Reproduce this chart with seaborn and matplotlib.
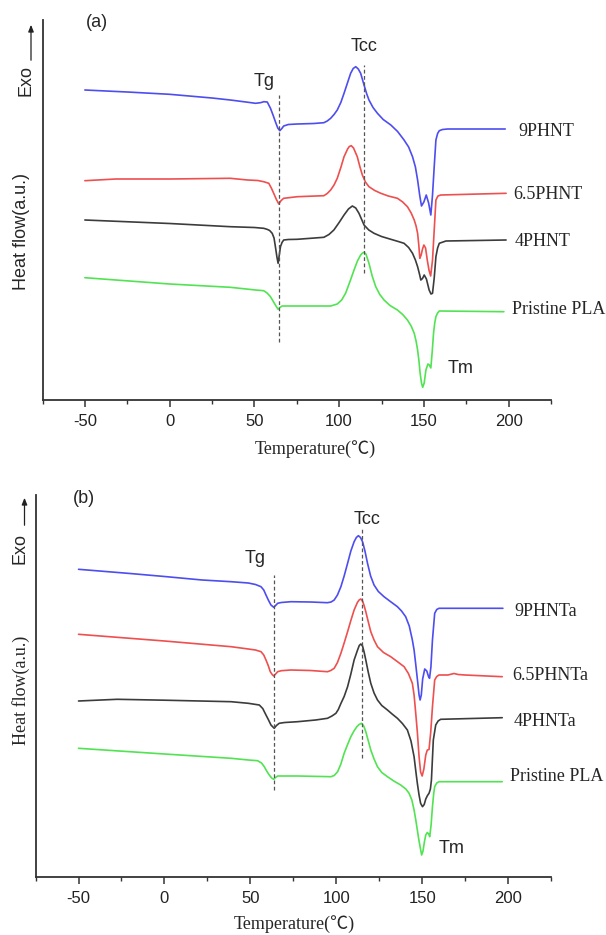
import numpy as np
import pandas as pd
import matplotlib
matplotlib.use("Agg")
import matplotlib.pyplot as plt
from matplotlib.ticker import MultipleLocator
import seaborn as sns

# ---------------- data ----------------
# panel (a)
a_9_T = [-50, -25, 0, 25, 35.8, 45, 50.7, 53.6, 55.6, 57.6, 59.5, 61, 62.4, 63.8, 65.0, 66.2, 67.3, 70,
         75.3, 85, 91.0, 93, 95.0, 97, 98.9, 101, 102.9, 105, 106.8, 108.3, 109.8, 111.3, 112.7, 114.7,
         116.2, 117.6, 120, 122.6, 126, 130.5, 134.5, 138.3, 141, 143.3, 145, 146.3, 147.6, 148.6, 150,
         151.4, 152.8, 154.1, 155.1, 156.1, 157.1, 158.1, 159.1, 161, 164, 198]
a_9_v = [310, 308, 305.7, 302, 300, 298, 296.7, 297.3, 298.3, 298, 291.7, 285, 278.3, 272, 269.3, 271.5,
         274, 275.5, 276, 276.5, 277.3, 279, 281.7, 285.5, 290, 297.5, 306.7, 317.5, 326.7, 331.5, 333.3,
         331, 326.7, 315, 306.5, 300, 292.5, 286.7, 280.5, 275, 268.5, 260, 253, 243.3, 233, 220, 204,
         194, 198, 205, 197, 185, 205, 233.3, 260, 266.5, 269.3, 270.5, 271, 271]

a_65_T = [-50, -31.7, 0, 35.8, 46, 52, 55.5, 58.5, 60, 61.4, 63, 64.4, 65.8, 67.3, 75.3, 91, 93, 95, 97,
          98.9, 101, 102.9, 105, 106, 107.2, 108.5, 110.7, 112.3, 113.7, 115.5, 117.6, 121, 124.6, 129,
          134.4, 137.5, 140.3, 142.5, 144.3, 145.4, 146.3, 147, 147.6, 148.4, 149.2, 150.0, 151, 152.0,
          153, 154.0, 155.1, 156.1, 157.1, 158.3, 160, 198.5]
a_65_v = [219.3, 221, 221, 221.7, 220, 219.5, 218.3, 216.7, 212, 206.7, 200.5, 196, 199.5, 201.7, 203.3,
          204.3, 206.5, 210, 215, 221.7, 232.5, 243.3, 251, 253.5, 254.3, 252, 243.3, 233, 225, 218,
          213.3, 209.5, 206.7, 204, 201.7, 198, 193.3, 187, 180, 174, 166.7, 155, 141.7, 145, 151, 155,
          152, 140, 130, 124, 140, 170, 200, 204, 205, 206.7]

a_4_T = [-50, 0, 35.8, 50, 55.5, 57.5, 59, 60.5, 61.6, 62.4, 63.3, 64, 64.7, 65.4, 66.3, 67.3, 70, 75.3,
         91, 94, 96.9, 100, 102.9, 105.5, 107.8, 109.8, 111.7, 113.3, 114.7, 117.5, 120.6, 125, 130.5,
         134.5, 138.3, 141, 143.3, 145, 146.3, 147.4, 148.2, 149.2, 150.2, 151.5, 153.1, 154.2, 155.1,
         156.1, 157.1, 158.1, 159.1, 163, 198.5]
a_4_v = [180, 176.5, 173.3, 172.5, 171.7, 170.7, 169.5, 166.7, 162, 153.3, 143, 136.7, 145, 153.3, 157.5,
         160, 160.5, 160.7, 162.7, 165.5, 170, 177.5, 185, 191, 194, 192, 186.7, 180.5, 175, 170, 166.7,
         163.5, 160.7, 158.7, 156.7, 152.5, 146.7, 140, 133.3, 126, 120, 121.5, 125, 121, 110, 106,
         106.7, 122, 143.3, 152, 156.7, 159, 160]

a_p_T = [-50, 0, 35.8, 50.7, 55.5, 57.5, 59.5, 61, 62.4, 63.3, 64, 65, 66.4, 75.3, 95, 98.9, 101.5,
         103.8, 106.3, 108.8, 110.8, 112.7, 113.8, 114.7, 115.8, 117.6, 119.5, 121.6, 124, 126.5, 130,
         134.4, 137.5, 140.3, 142.5, 144.3, 145.4, 146.3, 147.1, 147.8, 148.6, 149.3, 150.2, 151.2,
         152.4, 153.2, 154.1, 154.9, 155.7, 156.4, 157.1, 158.1, 159.1, 197.2]
a_p_v = [122.3, 116, 112.7, 110, 109.3, 107, 103.3, 99, 95, 92.5, 90.7, 92.5, 94, 94, 94, 96, 100, 106.7,
         118, 130, 139, 145, 147, 147.7, 146, 136.7, 124, 113.3, 105.5, 100, 94.5, 90, 85.5, 80, 74,
         66.7, 59, 50, 39, 26.7, 17, 12.7, 17, 30, 36, 35, 32, 48, 66.7, 77, 83.3, 87, 89, 88.3]

# panel (b)
b_9_T = [-50, -20, 0, 21.9, 38.8, 48.8, 53, 56.2, 57.8, 59.1, 60.6, 62, 63.6, 64.7, 65.9, 68, 73.6, 85,
         94.9, 97, 98.8, 100.7, 102.7, 104.6, 106.6, 108.5, 110.4, 111.7, 112.9, 114.1, 115.3, 116.7,
         118.2, 120, 122, 124.5, 127.8, 131.5, 135.6, 138, 140.4, 142.5, 144.3, 145.3, 146.2, 147.4,
         148.2, 148.8, 149.5, 150.3, 151.5, 152.7, 153.6, 154.3, 155.1, 156, 157.3, 158.5, 159.8, 197]
b_9_v = [307.7, 303.5, 300.5, 297, 295.3, 294, 292.5, 290.3, 287, 282, 276.5, 272, 269.7, 271.5, 273.7,
         274.5, 275.3, 275, 274.3, 275, 277, 282, 290.3, 301, 313.7, 326, 335.3, 339.5, 341.3, 339.5,
         335.3, 326, 313.7, 301, 292, 285.5, 280.3, 275.5, 270.3, 266, 260.3, 251, 237, 227, 213.7, 195,
         182, 177, 182, 198, 208, 206, 201, 198.7, 210, 237, 263.7, 267.5, 268.7, 268.7]

b_65_T = [-50, 0, 38.8, 48.8, 53, 56.2, 57.8, 59.1, 60.4, 61.6, 62.7, 63.6, 64.7, 65.9, 68, 73.6, 85,
          94.9, 96.8, 98.8, 100.7, 102.7, 104.6, 106.6, 108.5, 110.4, 112.3, 113.3, 114.3, 115.3, 116.2,
          117.2, 118.6, 120.1, 122, 124, 127.5, 131.7, 135.5, 139.5, 142, 144.3, 145.3, 146.2, 147.2,
          148.2, 149.1, 150.0, 151.0, 152.1, 153, 154.0, 155, 156, 157.3, 158.5, 159.8, 165, 168.5,
          171, 175, 196.6]
b_65_v = [242.7, 236, 230.3, 228, 227, 225.3, 222, 217, 211.5, 205.3, 202.5, 201, 203, 205.3, 206.3, 207,
          206.5, 205.3, 206.5, 208.7, 214.5, 223.7, 234, 245.3, 256.5, 267, 274.5, 277, 278, 276, 271.5,
          265.3, 255.5, 245.3, 237, 230.3, 224.5, 220.3, 215.5, 210.3, 203.5, 193.7, 182, 165, 145,
          120.3, 105, 101, 108, 122, 127, 127.5, 145, 170.3, 197, 200.5, 202, 202, 203.5, 202.5, 202,
          200.3]

b_4_T = [-50, -27.5, 0, 38.8, 48.8, 55.2, 57.2, 59.1, 60.6, 62, 63.9, 65.2, 66.8, 70, 77.5, 88, 94.9,
         97.5, 99.8, 101.2, 102.7, 104.6, 106.6, 108.5, 110.4, 112.4, 113.4, 114.3, 115.3, 116.2, 117.2,
         118.6, 120.1, 122, 124, 126.5, 129.8, 132.5, 135.6, 138.5, 141.4, 143.5, 145.3, 146.3, 147.2,
         148.2, 149.1, 150.2, 151.2, 152.1, 153.1, 154, 154.8, 155.4, 156.5, 157.9, 159.3, 160.8, 196.6]
b_4_v = [176, 177.7, 176.8, 175.3, 173.7, 172, 168.5, 162, 157, 152, 148.7, 151.5, 153.7, 154.5, 155.3,
         157, 158.7, 161, 163.7, 167.5, 173.5, 180.5, 190.3, 203, 217, 227, 231.5, 233, 231, 225, 217,
         205, 193.7, 184, 177, 171.5, 167, 163, 158.7, 153.5, 147, 136, 120.3, 106, 93.7, 82, 73.7,
         70.3, 72.5, 78, 81.5, 83.7, 88, 97, 137, 152, 156, 157.7, 159.3]

b_p_T = [-50, 0, 38.8, 48.8, 54.2, 56.5, 58.1, 59.5, 61, 62.4, 63.6, 64.6, 65.9, 70, 77.5, 96.9, 98.8,
         100.8, 102.7, 104.6, 106.6, 108.5, 110.3, 112, 113.3, 114.7, 116, 117.2, 118.6, 120.1, 122,
         124, 126.5, 129.8, 133.5, 137.5, 140.5, 142.4, 144, 145.3, 146.3, 147.2, 148, 148.8, 149.7,
         150.5, 151.3, 152.1, 153, 153.8, 154.4, 155.2, 156, 156.7, 157.3, 158.5, 159.8, 196.6]
b_p_v = [128.7, 123, 118.7, 117, 116.3, 114, 110.3, 106, 102, 99, 97.7, 99.5, 101, 101, 101, 100.3,
         101.5, 105.3, 113, 123.7, 132.5, 140.3, 146, 150.3, 152.5, 153.7, 151, 145.3, 136.5, 127, 118,
         110.3, 104.5, 100.3, 96, 92, 88, 83.7, 77, 67, 57, 47, 38, 30.3, 22, 26, 35, 42, 44.5, 43,
         40.3, 52, 70.3, 83, 90.3, 94, 95.3, 95.3]

a_names = ["9PHNT", "6.5PHNT", "4PHNT", "Pristine PLA"]
b_names = ["9PHNTa", "6.5PHNTa", "4PHNTa", "Pristine PLA"]
series_colors = ["#4d4df0", "#ee4f4f", "#3c3c3c", "#52e352"]
x_ticks = [-50, 0, 50, 100, 150, 200]

a_label_pos = [(205.5, 268.3), (202.5, 205), (203.4, 158.3), (201.9, 90.7)]
b_label_pos = [(203.4, 265.3), (202.4, 202), (203.0, 155.3), (201.0, 100.3)]

# ---------------- figure ----------------
sns.set_style("ticks")
plt.rcParams["font.family"] = ["Liberation Sans", "DejaVu Sans"]
plt.rcParams["axes.unicode_minus"] = False

fig = plt.figure(figsize=(6.06, 9.35), dpi=100)
W, H = 606, 935


def px_axes(l, t, r, b):
    return fig.add_axes([l / W, 1 - b / H, (r - l) / W, (b - t) / H])


ax_a = px_axes(42.5, 20, 551, 400)
ax_b = px_axes(35.6, 495, 551, 877)

serif = ["Liberation Serif", "Noto Sans CJK SC", "DejaVu Serif"]
dash_c = "#555555"


def make_df(Ts, Vs, names):
    frames = []
    for t, v, n in zip(Ts, Vs, names):
        frames.append(pd.DataFrame({"T": t, "val": v, "sample": n}))
    return pd.concat(frames, ignore_index=True)


def style_axes(ax, ylim_top):
    ax.set_xlim(-75, 225)
    ax.set_ylim(0, ylim_top)
    ax.set_xticks(x_ticks)
    ax.xaxis.set_minor_locator(MultipleLocator(25))
    ax.set_yticks([])
    ax.set_xlabel("")
    ax.set_ylabel("")
    for s in ["top", "right"]:
        ax.spines[s].set_visible(False)
    for s in ["left", "bottom"]:
        ax.spines[s].set_linewidth(1.3)
        ax.spines[s].set_color("#333333")
    ax.tick_params(axis="x", which="major", direction="out", length=5, width=1.1,
                   labelsize=12, pad=5, colors="#333333", labelcolor="#222222")
    ax.tick_params(axis="x", which="minor", direction="out", length=3, width=1.0, colors="#333333")
    ax.patch.set_alpha(0)


# panel (a)
df_a = make_df([a_9_T, a_65_T, a_4_T, a_p_T], [a_9_v, a_65_v, a_4_v, a_p_v], a_names)
sns.lineplot(data=df_a, x="T", y="val", hue="sample", palette=dict(zip(a_names, series_colors)),
             estimator=None, legend=False, lw=1.2, ax=ax_a)
style_axes(ax_a, 380)
ax_a.plot([64.8, 64.8], [58.3, 305], ls=(0, (3, 2)), color=dash_c, lw=0.9)
ax_a.plot([114.7, 114.7], [127.3, 335], ls=(0, (3, 2)), color=dash_c, lw=0.9)
for n, (x, y) in zip(a_names, a_label_pos):
    ax_a.text(x, y, n, ha="left", va="center", fontsize=13, family=serif, clip_on=False)
ax_a.text(55.5, 318.3, "Tg", ha="center", va="center", fontsize=13)
ax_a.text(114.7, 353.3, "Tcc", ha="center", va="center", fontsize=13)
ax_a.text(171.9, 31.7, "Tm", ha="center", va="center", fontsize=13)
ax_a.text(-43.1, 377, "(a)", ha="center", va="center", fontsize=13, clip_on=False)

# panel (b)
df_b = make_df([b_9_T, b_65_T, b_4_T, b_p_T], [b_9_v, b_65_v, b_4_v, b_p_v], b_names)
sns.lineplot(data=df_b, x="T", y="val", hue="sample", palette=dict(zip(b_names, series_colors)),
             estimator=None, legend=False, lw=1.2, ax=ax_b)
style_axes(ax_b, 382)
ax_b.plot([63.6, 63.6], [87, 302], ls=(0, (3, 2)), color=dash_c, lw=0.9)
ax_b.plot([114.7, 114.7], [118.7, 350.3], ls=(0, (3, 2)), color=dash_c, lw=0.9)
for n, (x, y) in zip(b_names, b_label_pos):
    ax_b.text(x, y, n, ha="left", va="center", fontsize=13, family=serif, clip_on=False)
ax_b.text(52.7, 318.7, "Tg", ha="center", va="center", fontsize=13)
ax_b.text(118.0, 357, "Tcc", ha="center", va="center", fontsize=13)
ax_b.text(166.9, 28.7, "Tm", ha="center", va="center", fontsize=13)
ax_b.text(-46.6, 378.7, "(b)", ha="center", va="center", fontsize=13, clip_on=False)

# axis titles (figure pixel positions)
fig.text(315 / W, 1 - 449 / H, "Temperature(℃)", ha="center", va="center", fontsize=13, family=serif)
fig.text(294 / W, 1 - 924 / H, "Temperature(℃)", ha="center", va="center", fontsize=13, family=serif)
fig.text(21 / W, 1 - 231 / H, "Heat flow(a.u.)", rotation=90, ha="center", va="center", fontsize=13)
fig.text(21 / W, 1 - 690 / H, "Heat flow(a.u.)", rotation=90, ha="center", va="center", fontsize=13,
         family=serif)

# Exo arrows
fig.text(26 / W, 1 - 80 / H, "Exo", rotation=90, ha="center", va="center", fontsize=13)
fig.text(20 / W, 1 - 548 / H, "Exo", rotation=90, ha="center", va="center", fontsize=13)
for x, y0, y1 in [(31, 63, 22), (24.5, 528, 495)]:
    fig.add_artist(matplotlib.patches.FancyArrowPatch(
        (x / W, 1 - y0 / H), (x / W, 1 - y1 / H), transform=fig.transFigure,
        arrowstyle="-|>,head_length=4,head_width=1.6", lw=0.9, color="#222222"))

fig.savefig("out.png", dpi=100)
